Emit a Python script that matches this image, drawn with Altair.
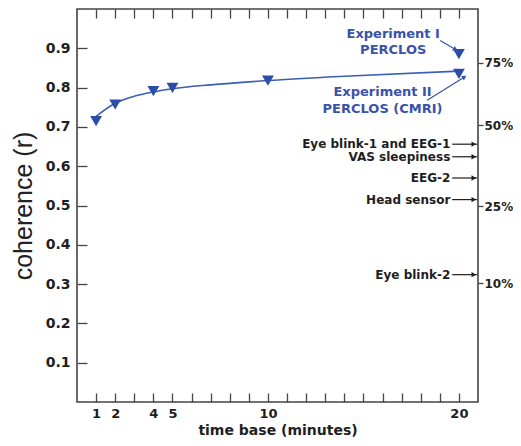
import altair as alt
import pandas as pd

# ---- data ----
minutes = [1, 2, 4, 5, 10, 20]
coherence = [0.715, 0.757, 0.791, 0.799, 0.818, 0.835]
exp1_minutes = [20]
exp1_coherence = [0.885]

curve_minutes = [1, 2, 3, 4, 5, 7, 10, 14, 20]
curve_coherence = [0.727, 0.760, 0.778, 0.789, 0.797, 0.807, 0.818, 0.829, 0.842]

tick_minutes = list(range(1, 21))
labeled_minutes = [1, 2, 4, 5, 10, 20]
y_ticks = [0.1, 0.2, 0.3, 0.4, 0.5, 0.6, 0.7, 0.8, 0.9]

pct_labels = ["10%", "25%", "50%", "75%"]
pct_coherence = [0.302, 0.498, 0.704, 0.863]

method_labels = ["Eye blink-1 and EEG-1", "VAS sleepiness", "EEG-2", "Head sensor", "Eye blink-2"]
method_coherence = [0.656, 0.624, 0.570, 0.515, 0.324]

exp_text = ["Experiment I", "PERCLOS", "Experiment II", "PERCLOS (CMRI)"]
exp_text_minute = [16.56, 16.56, 16.0, 16.0]
exp_text_coh = [0.937, 0.895, 0.789, 0.745]

# blue annotation arrows (start -> end, data units)
barrow_x = [19.02, 18.34]
barrow_y = [0.920, 0.768]
barrow_x2 = [19.82, 20.29]
barrow_y2 = [0.897, 0.827]
barrow_angle = [30, 328]

# black arrows to the right axis
arrow_start = 19.65
arrow_end = 20.95
arrow_head = 20.78
label_end = 19.55

BLUE = "#2B4DA5"
TXT = "#1e1e1e"
FONT = "DejaVu Sans"

xscale = alt.Scale(domain=[0, 21], nice=False, zero=False)
yscale = alt.Scale(domain=[0, 1], nice=False, zero=False)

label_expr = "indexof([" + ",".join(str(m) for m in labeled_minutes) + "], datum.value) >= 0 ? datum.label : ''"
pct_expr = " : ".join(
    f"abs(datum.value - {v}) < 0.001 ? '{l}'" for v, l in zip(pct_coherence, pct_labels)
) + " : ''"

pts = pd.DataFrame({"minute": minutes, "coh": coherence})
exp1 = pd.DataFrame({"minute": exp1_minutes, "coh": exp1_coherence})
curve = pd.DataFrame({"minute": curve_minutes, "coh": curve_coherence})
methods = pd.DataFrame({"label": method_labels, "coh": method_coherence,
                        "xs": [arrow_start] * 5, "xe": [arrow_end] * 5,
                        "xh": [arrow_head] * 5, "xt": [label_end] * 5})
exps = pd.DataFrame({"t": exp_text, "minute": exp_text_minute, "coh": exp_text_coh})
barrows = pd.DataFrame({"x": barrow_x, "y": barrow_y, "x2": barrow_x2, "y2": barrow_y2,
                        "a": barrow_angle})

# curve layer carries bottom x axis and left y axis
line = alt.Chart(curve).mark_line(color="#3A5FB5", strokeWidth=1.6, interpolate="monotone").encode(
    x=alt.X("minute:Q", scale=xscale, axis=alt.Axis(
        orient="bottom", values=tick_minutes, labelExpr=label_expr, offset=-9, tickSize=9,
        domain=False, grid=False, tickColor="#444", tickWidth=1.3, labelPadding=5,
        labelFont=FONT, labelFontSize=13, labelFontWeight="bold", labelColor=TXT,
        title="time base (minutes)", titleFont=FONT, titleFontSize=14, titleFontWeight="bold",
        titleColor=TXT, titlePadding=3)),
    y=alt.Y("coh:Q", scale=yscale, axis=alt.Axis(
        orient="left", values=y_ticks, format=".1f", offset=-10, tickSize=10, domain=False,
        grid=False, tickColor="#444", tickWidth=1.3, labelPadding=7,
        labelFont=FONT, labelFontSize=14, labelFontWeight="bold", labelColor=TXT,
        title="coherence (r)", titleFont="Liberation Sans", titleFontSize=25, titleFontWeight="normal",
        titleColor="#222", titlePadding=9)),
)

# points layer carries top x axis and right y axis
points = alt.Chart(pts).mark_point(shape="triangle-down", filled=True, size=140, color=BLUE, opacity=1).encode(
    x=alt.X("minute:Q", scale=xscale, axis=alt.Axis(
        orient="top", values=tick_minutes, labels=False, offset=-9, tickSize=9, domain=False,
        grid=False, tickColor="#444", tickWidth=1.3, title=None)),
    y=alt.Y("coh:Q", scale=yscale, axis=alt.Axis(
        orient="right", values=pct_coherence, labelExpr=pct_expr, tickSize=5, domain=False,
        grid=False, tickColor="#444", tickWidth=1.3, labelPadding=1,
        labelFont=FONT, labelFontSize=12, labelFontWeight="bold", labelColor=TXT, title=None)),
)

exp1_pt = alt.Chart(exp1).mark_point(shape="triangle-down", filled=True, size=140, color=BLUE, opacity=1).encode(
    x=alt.X("minute:Q", scale=xscale, axis=None),
    y=alt.Y("coh:Q", scale=yscale, axis=None),
)

method_text = alt.Chart(methods).mark_text(align="right", baseline="middle", font=FONT, fontSize=12,
                                           fontWeight="bold", color=TXT).encode(
    x=alt.X("xt:Q", scale=xscale, axis=None), y=alt.Y("coh:Q", scale=yscale, axis=None), text="label:N")

method_rule = alt.Chart(methods).mark_rule(color=TXT, strokeWidth=1.2).encode(
    x=alt.X("xs:Q", scale=xscale, axis=None), x2="xe:Q", y=alt.Y("coh:Q", scale=yscale, axis=None))

method_head = alt.Chart(methods).mark_point(shape="triangle-right", filled=True, size=28, color=TXT, opacity=1).encode(
    x=alt.X("xh:Q", scale=xscale, axis=None), y=alt.Y("coh:Q", scale=yscale, axis=None))

exp_labels = alt.Chart(exps).mark_text(align="center", baseline="middle", font=FONT, fontSize=13,
                                       fontWeight="bold", color="#3A52A8").encode(
    x=alt.X("minute:Q", scale=xscale, axis=None), y=alt.Y("coh:Q", scale=yscale, axis=None), text="t:N")

blue_rule = alt.Chart(barrows).mark_rule(color="#3A52A8", strokeWidth=1.2).encode(
    x=alt.X("x:Q", scale=xscale, axis=None), y=alt.Y("y:Q", scale=yscale, axis=None), x2="x2:Q", y2="y2:Q")

blue_head = alt.Chart(barrows).mark_point(shape="triangle-right", filled=True, size=28, color="#3A52A8", opacity=1).encode(
    x=alt.X("x2:Q", scale=xscale, axis=None), y=alt.Y("y2:Q", scale=yscale, axis=None), angle=alt.Angle("a:Q", scale=None))

chart = alt.layer(line, points, exp1_pt, method_rule, method_head, method_text, exp_labels,
                  blue_rule, blue_head).resolve_axis(x="independent", y="independent").properties(
    width=401, height=393,
    autosize=alt.AutoSizeParams(type="none"),
    padding={"left": 69, "top": 1, "right": 35, "bottom": 36},
    background="white",
).configure_view(stroke="#444", strokeWidth=1.6)

chart.save("out.html", embed_options={"renderer": "svg", "actions": False})
